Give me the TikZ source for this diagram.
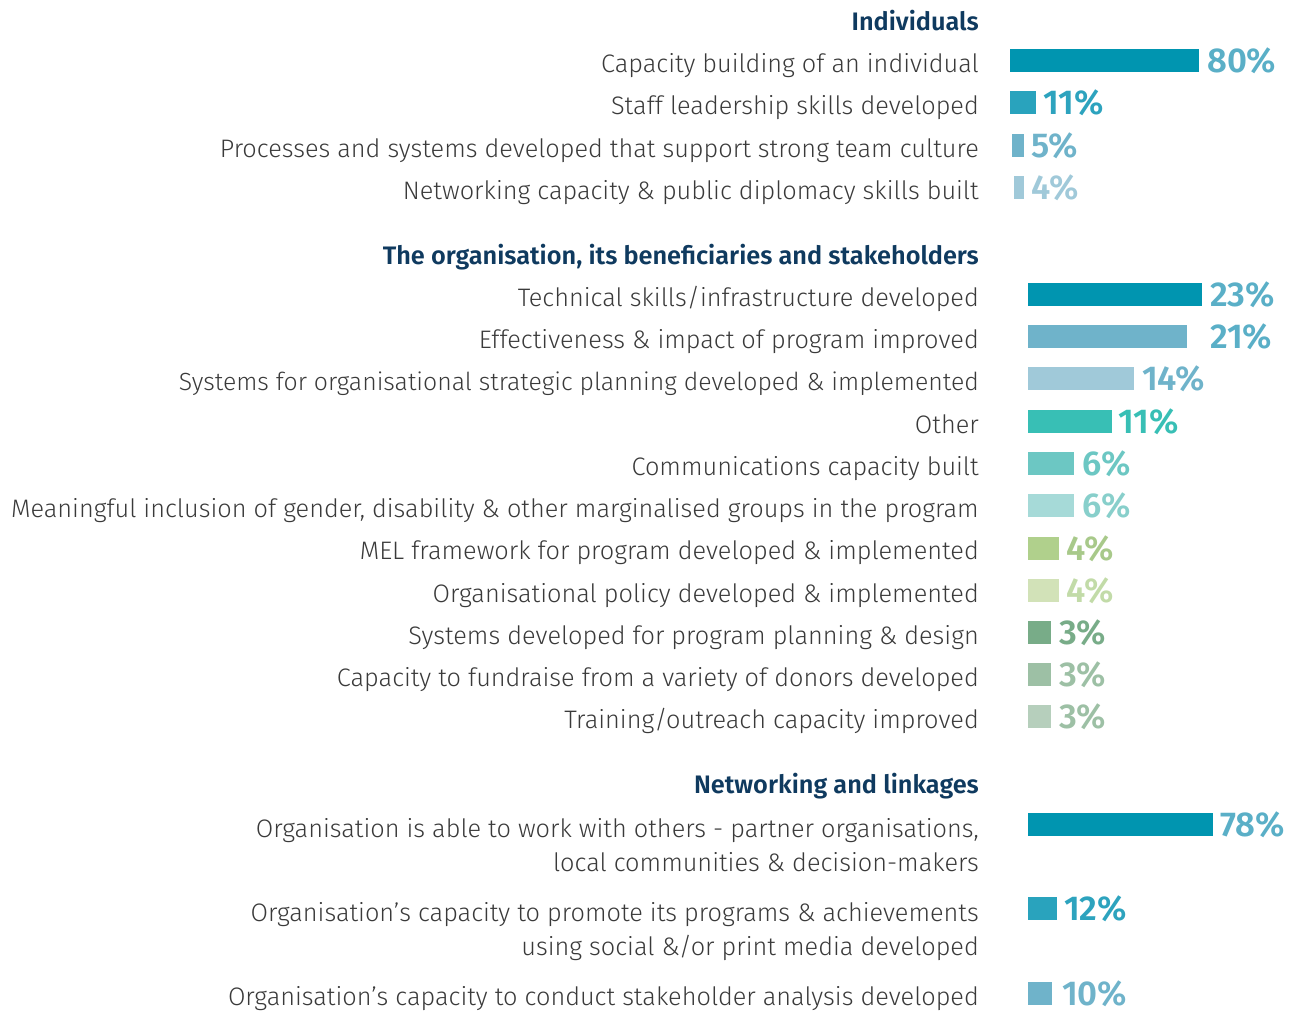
\documentclass[tikz,border=0pt]{standalone}
\usepackage{fontspec}
\setmainfont{Fira Sans Light}
\newfontfamily\headf{Fira Sans SemiBold}
\newfontfamily\pctf{Fira Sans SemiBold}
\definecolor{navy}{HTML}{0F3A5F}
\definecolor{lblgray}{HTML}{3A3A3A}
\definecolor{cA}{HTML}{0095B0}
\definecolor{cB}{HTML}{29A3BD}
\definecolor{cC}{HTML}{6FB3CA}
\definecolor{cD}{HTML}{A0C9D9}
\definecolor{cE}{HTML}{38BFB5}
\definecolor{cF}{HTML}{6CC7C3}
\definecolor{cG}{HTML}{A6DAD8}
\definecolor{cH}{HTML}{B0D08C}
\definecolor{cI}{HTML}{D2E2B8}
\definecolor{cJ}{HTML}{78AC88}
\definecolor{cK}{HTML}{9DC0A5}
\definecolor{cL}{HTML}{B6CFBC}
\definecolor{pA}{HTML}{5AAFC7}
\definecolor{pB}{HTML}{2DA3BE}
\definecolor{pC}{HTML}{6FB3CA}
\definecolor{pD}{HTML}{A0C9D9}
\definecolor{pE}{HTML}{38BFB5}
\definecolor{pF}{HTML}{6CC7C3}
\definecolor{pG}{HTML}{88CFCB}
\definecolor{pH}{HTML}{A8C98A}
\definecolor{pI}{HTML}{C2DBA8}
\definecolor{pJ}{HTML}{78AC88}
\definecolor{pK}{HTML}{9DC0A5}
\begin{document}
\begin{tikzpicture}[x=1pt,y=-1pt,
  lbl/.style={anchor=base east, inner sep=0pt, text=lblgray, font=\fontsize{25.3}{30}\selectfont},
  head/.style={anchor=base east, inner sep=0pt, text=navy, font=\headf\fontsize{25.3}{30}\selectfont},
  pct/.style={anchor=base west, inner sep=0pt, font=\pctf\fontsize{34.5}{40}\selectfont}]
\useasboundingbox (0,0) rectangle (1292,1012);
% Individuals
\node[head] (h1) at (979,30) {Individuals};
\node[lbl] (l1) at (979,72) {Capacity building of an individual};
\fill[cA] (1010,49) rectangle (1199,72);
\node[pct,text=pA] (p1) at (1207,72) {80\%};
\node[lbl] (l2) at (979,114) {Staff leadership skills developed};
\fill[cB] (1010,91) rectangle (1036,114);
\node[pct,text=pB] (p2) at (1043,114) {11\%};
\node[lbl] (l3) at (979,157) {Processes and systems developed that support strong team culture};
\fill[cC] (1012,134) rectangle (1024,157);
\node[pct,text=pC] (p3) at (1031,157) {5\%};
\node[lbl] (l4) at (979,199) {Networking capacity \& public diplomacy skills built};
\fill[cD] (1014,176) rectangle (1024,199);
\node[pct,text=pD] (p4) at (1031,199) {4\%};
% Organisation
\node[head] (h2) at (979,264) {The organisation, its beneficiaries and stakeholders};
\node[lbl] (l5) at (979,306) {Technical skills/infrastructure developed};
\fill[cA] (1028,283) rectangle (1202,306);
\node[pct,text=pA] (p5) at (1210,306) {23\%};
\node[lbl] (l6) at (979,348) {Effectiveness \& impact of program improved};
\fill[cC] (1028,325) rectangle (1187,348);
\node[pct,text=pA] (p6) at (1210,348) {21\%};
\node[lbl,font=\fontsize{24.8}{30}\selectfont] (l7) at (979,390) {Systems for organisational strategic planning developed \& implemented};
\fill[cD] (1028,367) rectangle (1134,390);
\node[pct,text=pC] (p7) at (1142,390) {14\%};
\node[lbl] (l8) at (979,433) {Other};
\fill[cE] (1028,410) rectangle (1112,433);
\node[pct,text=pE] (p8) at (1118,433) {11\%};
\node[lbl] (l9) at (979,475) {Communications capacity built};
\fill[cF] (1028,452) rectangle (1074,475);
\node[pct,text=pF] (p9) at (1082,475) {6\%};
\node[lbl] (l10) at (979,517) {Meaningful inclusion of gender, disability \& other marginalised groups in the program};
\fill[cG] (1028,494) rectangle (1074,517);
\node[pct,text=pG] (p10) at (1082,517) {6\%};
\node[lbl] (l11) at (979,559) {MEL framework for program developed \& implemented};
\fill[cH] (1028,537) rectangle (1059,560);
\node[pct,text=pH] (p11) at (1066,560) {4\%};
\node[lbl] (l12) at (979,602) {Organisational policy developed \& implemented};
\fill[cI] (1028,579) rectangle (1059,602);
\node[pct,text=pI] (p12) at (1066,602) {4\%};
\node[lbl] (l13) at (979,644) {Systems developed for program planning \& design};
\fill[cJ] (1028,621) rectangle (1051,644);
\node[pct,text=pJ] (p13) at (1059,644) {3\%};
\node[lbl] (l14) at (979,686) {Capacity to fundraise from a variety of donors developed};
\fill[cK] (1028,663) rectangle (1051,686);
\node[pct,text=pK] (p14) at (1059,686) {3\%};
\node[lbl] (l15) at (979,728) {Training/outreach capacity improved};
\fill[cL] (1028,705) rectangle (1051,728);
\node[pct,text=pK] (p15) at (1059,728) {3\%};
% Networking
\node[head] (h3) at (979,793) {Networking and linkages};
\node[lbl] (l16a) at (979,837) {Organisation is able to work with others - partner organisations,};
\node[lbl] (l16b) at (979,871) {local communities \& decision-makers};
\fill[cA] (1028,813) rectangle (1213,836);
\node[pct,text=pA] (p16) at (1220,836) {78\%};
\node[lbl] (l17a) at (979,921) {Organisation’s capacity to promote its programs \& achievements};
\node[lbl] (l17b) at (979,955) {using social \&/or print media developed};
\fill[cB] (1028,897) rectangle (1057,920);
\node[pct,text=pB] (p17) at (1064,920) {12\%};
\node[lbl] (l18) at (979,1005) {Organisation’s capacity to conduct stakeholder analysis developed};
\fill[cC] (1028,982) rectangle (1052,1005);
\node[pct,text=pC] (p18) at (1062,1005) {10\%};
\end{tikzpicture}
\end{document}
